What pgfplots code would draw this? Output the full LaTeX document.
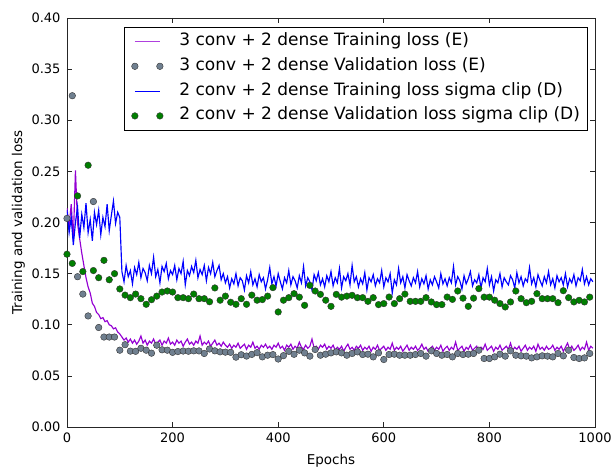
\documentclass[border=0pt]{standalone}
\usepackage{fontspec}
\setmainfont{DejaVu Sans}
\usepackage{pgfplots}
\pgfplotsset{compat=1.18}
\definecolor{eTrain}{HTML}{9400D3}
\definecolor{eVal}{HTML}{708090}
\definecolor{dTrain}{HTML}{0000FF}
\definecolor{dVal}{HTML}{007F00}
\begin{document}
\begin{tikzpicture}
\begin{axis}[
  scale only axis, width=528pt, height=409pt,
  xmin=0, xmax=1000, ymin=0, ymax=0.40,
  xtick={0,200,400,600,800,1000},
  ytick={0,0.05,0.10,0.15,0.20,0.25,0.30,0.35,0.40},
  tick align=inside, major tick length=5pt,
  axis line style={line width=0.9pt, black!85},
  every tick/.style={black!85, line width=0.7pt},
  /pgf/number format/assume math mode=true,
  tick label style={font=\fontsize{13}{15}\selectfont},
  yticklabel style={xshift=-3pt, /pgf/number format/.cd, fixed, fixed zerofill, precision=2},
  xticklabel style={yshift=-2pt, /pgf/number format/.cd, fixed, set thousands separator={}},
  xlabel={Epochs}, ylabel={Training and validation loss},
  every axis x label/.style={at={(axis description cs:0.5,-0.0929)}, anchor=base, font=\fontsize{13.5}{15}\selectfont},
  every axis y label/.style={at={(axis description cs:-0.0852,0.5)}, rotate=90, anchor=base, font=\fontsize{13.5}{15}\selectfont},
  legend cell align=left,
  legend style={at={(0.985,0.978)}, anchor=north east, draw=black, fill=white,
    font=\fontsize{17}{19}\selectfont, inner xsep=7pt, inner ysep=6.3pt,
    row sep=8.8pt,
    nodes={inner sep=0pt, text height=12pt, text depth=4pt},
    /tikz/every odd column/.append style={column sep=16pt}},
]
\addplot[draw=eTrain, line width=1.15pt, mark=none,
  legend image code/.code={\draw[draw=eTrain!75, line width=1.1pt] (0pt,0pt) -- (25pt,0pt);}] coordinates {
(0,0.214)(4,0.196)(8,0.218)(12,0.183)(16,0.251)(20,0.199)(24,0.184)(28,0.170)(32,0.158)(36,0.146)(40,0.137)(44,0.131)(48,0.121)(52,0.118)(56,0.112)(60,0.110)(64,0.106)(68,0.107)(72,0.103)(76,0.104)(80,0.100)(84,0.099)(88,0.096)(92,0.097)(96,0.093)
(100,0.091)(104,0.088)(108,0.085)(112,0.087)(116,0.083)(120,0.086)(124,0.082)(128,0.085)(132,0.081)(136,0.084)(140,0.089)(144,0.082)(148,0.085)(152,0.080)(156,0.084)(160,0.082)(164,0.086)(168,0.081)(172,0.083)(176,0.085)(180,0.080)(184,0.084)(188,0.082)(192,0.087)(196,0.081)
(200,0.083)(204,0.080)(208,0.085)(212,0.082)(216,0.084)(220,0.079)(224,0.083)(228,0.086)(232,0.081)(236,0.083)(240,0.080)(244,0.084)(248,0.082)(252,0.089)(256,0.080)(260,0.083)(264,0.081)(268,0.084)(272,0.079)(276,0.082)(280,0.085)(284,0.080)(288,0.082)(292,0.079)(296,0.083)
(300,0.080)(304,0.078)(308,0.081)(312,0.077)(316,0.080)(320,0.078)(324,0.082)(328,0.077)(332,0.079)(336,0.081)(340,0.076)(344,0.080)(348,0.078)(352,0.083)(356,0.077)(360,0.079)(364,0.076)(368,0.080)(372,0.078)(376,0.081)(380,0.077)(384,0.079)(388,0.076)(392,0.080)(396,0.078)
(400,0.082)(404,0.077)(408,0.079)(412,0.075)(416,0.080)(420,0.078)(424,0.081)(428,0.076)(432,0.079)(436,0.077)(440,0.083)(444,0.078)(448,0.076)(452,0.080)(456,0.077)(460,0.079)(464,0.086)(468,0.077)(472,0.079)(476,0.076)(480,0.080)(484,0.078)(488,0.081)(492,0.076)(496,0.079)
(500,0.077)(504,0.080)(508,0.075)(512,0.078)(516,0.076)(520,0.079)(524,0.074)(528,0.078)(532,0.081)(536,0.076)(540,0.078)(544,0.075)(548,0.079)(552,0.077)(556,0.080)(560,0.075)(564,0.078)(568,0.076)(572,0.079)(576,0.074)(580,0.078)(584,0.076)(588,0.080)(592,0.075)(596,0.077)
(600,0.079)(604,0.075)(608,0.078)(612,0.076)(616,0.082)(620,0.075)(624,0.078)(628,0.076)(632,0.079)(636,0.074)(640,0.077)(644,0.080)(648,0.075)(652,0.078)(656,0.076)(660,0.079)(664,0.075)(668,0.077)(672,0.081)(676,0.076)(680,0.078)(684,0.074)(688,0.077)(692,0.079)(696,0.075)
(700,0.078)(704,0.076)(708,0.080)(712,0.074)(716,0.077)(720,0.079)(724,0.075)(728,0.078)(732,0.076)(736,0.083)(740,0.075)(744,0.077)(748,0.079)(752,0.074)(756,0.078)(760,0.076)(764,0.080)(768,0.075)(772,0.077)(776,0.079)(780,0.074)(784,0.078)(788,0.076)(792,0.081)(796,0.075)
(800,0.077)(804,0.079)(808,0.074)(812,0.078)(816,0.076)(820,0.080)(824,0.075)(828,0.077)(832,0.079)(836,0.076)(840,0.082)(844,0.075)(848,0.078)(852,0.076)(856,0.079)(860,0.074)(864,0.077)(868,0.080)(872,0.075)(876,0.078)(880,0.076)(884,0.079)(888,0.074)(892,0.081)(896,0.076)
(900,0.078)(904,0.075)(908,0.079)(912,0.076)(916,0.077)(920,0.080)(924,0.075)(928,0.078)(932,0.076)(936,0.079)(940,0.074)(944,0.078)(948,0.082)(952,0.076)(956,0.079)(960,0.075)(964,0.077)(968,0.080)(972,0.075)(976,0.078)(980,0.076)(984,0.083)(988,0.075)(992,0.079)(996,0.077)
};
\addlegendentry{3 conv + 2 dense Training loss (E)}
\addplot[only marks, mark=*, mark size=3.3pt, mark options={fill=eVal, draw=black!80, line width=0.4pt},
  legend image code/.code={\draw[fill=eVal, draw=black!80, line width=0.4pt] (0pt,0pt) circle[radius=3.3pt] (25pt,0pt) circle[radius=3.3pt];}] coordinates {
(0,0.204)(10,0.324)(20,0.147)(30,0.130)(40,0.1086)(50,0.2205)(60,0.0973)(70,0.088)(80,0.088)(90,0.088)
(100,0.0751)(110,0.0805)(120,0.0742)(130,0.074)(140,0.077)(150,0.0751)(160,0.0722)(170,0.080)(180,0.0755)(190,0.0751)
(200,0.073)(210,0.0738)(220,0.0743)(230,0.0741)(240,0.0745)(250,0.0744)(260,0.0719)(270,0.0763)(280,0.0745)(290,0.0735)
(300,0.0732)(310,0.0730)(320,0.0683)(330,0.0707)(340,0.0694)(350,0.0710)(360,0.0727)(370,0.0686)(380,0.0702)(390,0.0708)
(400,0.0665)(410,0.0698)(420,0.074)(430,0.0711)(440,0.0751)(450,0.0725)(460,0.0693)(470,0.0758)(480,0.0702)(490,0.0712)
(500,0.0725)(510,0.0735)(520,0.0725)(530,0.0702)(540,0.0719)(550,0.0735)(560,0.0709)(570,0.0712)(580,0.0686)(590,0.0725)
(600,0.066)(610,0.0709)(620,0.0712)(630,0.0702)(640,0.0702)(650,0.0702)(660,0.0709)(670,0.0719)(680,0.0693)(690,0.0745)
(700,0.0719)(710,0.0702)(720,0.0709)(730,0.0686)(740,0.0719)(750,0.0709)(760,0.0712)(770,0.0719)(780,0.0751)(790,0.067)
(800,0.067)(810,0.0686)(820,0.0712)(830,0.0693)(840,0.0745)(850,0.0702)(860,0.0696)(870,0.0693)(880,0.0676)(890,0.0686)
(900,0.0696)(910,0.0693)(920,0.0686)(930,0.0719)(940,0.0696)(950,0.0751)(960,0.068)(970,0.067)(980,0.0676)(990,0.0719)
};
\addlegendentry{3 conv + 2 dense Validation loss (E)}
\addplot[draw=dTrain, line width=1.15pt, mark=none,
  legend image code/.code={\draw[draw=dTrain, line width=1.1pt] (0pt,0pt) -- (25pt,0pt);}] coordinates {
(0,0.212)(4,0.190)(8,0.205)(12,0.178)(16,0.200)(20,0.215)(24,0.185)(28,0.208)(32,0.195)(36,0.219)(40,0.190)(44,0.203)(48,0.182)(52,0.210)(56,0.198)(60,0.212)(64,0.188)(68,0.205)(72,0.196)(76,0.218)(80,0.192)(84,0.207)(88,0.221)(92,0.199)(96,0.210)
(100,0.205)(104,0.152)(108,0.142)(112,0.158)(116,0.147)(120,0.153)(124,0.140)(128,0.156)(132,0.149)(136,0.161)(140,0.146)(144,0.155)(148,0.151)(152,0.143)(156,0.158)(160,0.150)(164,0.166)(168,0.147)(172,0.154)(176,0.141)(180,0.157)(184,0.152)(188,0.160)(192,0.145)(196,0.153)
(200,0.149)(204,0.158)(208,0.144)(212,0.155)(216,0.150)(220,0.162)(224,0.139)(228,0.153)(232,0.148)(236,0.157)(240,0.151)(244,0.163)(248,0.146)(252,0.154)(256,0.149)(260,0.158)(264,0.143)(268,0.156)(272,0.150)(276,0.161)(280,0.147)(284,0.153)(288,0.158)(292,0.144)(296,0.150)
(300,0.141)(304,0.147)(308,0.136)(312,0.145)(316,0.140)(320,0.150)(324,0.138)(328,0.146)(332,0.143)(336,0.134)(340,0.148)(344,0.141)(348,0.152)(352,0.139)(356,0.145)(360,0.137)(364,0.149)(368,0.142)(372,0.146)(376,0.135)(380,0.144)(384,0.156)(388,0.140)(392,0.147)(396,0.138)
(400,0.150)(404,0.142)(408,0.135)(412,0.146)(416,0.141)(420,0.153)(424,0.139)(428,0.147)(432,0.143)(436,0.136)(440,0.148)(444,0.141)(448,0.157)(452,0.138)(456,0.146)(460,0.142)(464,0.134)(468,0.149)(472,0.143)(476,0.151)(480,0.139)(484,0.145)(488,0.137)(492,0.148)(496,0.142)
(500,0.152)(504,0.138)(508,0.146)(512,0.141)(516,0.155)(520,0.136)(524,0.147)(528,0.143)(532,0.150)(536,0.139)(540,0.158)(544,0.142)(548,0.147)(552,0.137)(556,0.145)(560,0.140)(564,0.151)(568,0.134)(572,0.146)(576,0.142)(580,0.149)(584,0.138)(588,0.145)(592,0.141)(596,0.153)
(600,0.137)(604,0.146)(608,0.142)(612,0.150)(616,0.131)(620,0.144)(624,0.139)(628,0.155)(632,0.141)(636,0.147)(640,0.136)(644,0.149)(648,0.143)(652,0.138)(656,0.146)(660,0.141)(664,0.152)(668,0.137)(672,0.145)(676,0.140)(680,0.148)(684,0.135)(688,0.144)(692,0.139)(696,0.147)
(700,0.142)(704,0.136)(708,0.150)(712,0.140)(716,0.145)(720,0.138)(724,0.146)(728,0.141)(732,0.157)(736,0.139)(740,0.147)(744,0.143)(748,0.135)(752,0.148)(756,0.140)(760,0.145)(764,0.152)(768,0.138)(772,0.144)(776,0.141)(780,0.149)(784,0.136)(788,0.146)(792,0.142)(796,0.155)
(800,0.139)(804,0.147)(808,0.133)(812,0.144)(816,0.141)(820,0.150)(824,0.137)(828,0.146)(832,0.142)(836,0.139)(840,0.148)(844,0.144)(848,0.136)(852,0.151)(856,0.141)(860,0.147)(864,0.138)(868,0.145)(872,0.142)(876,0.156)(880,0.140)(884,0.146)(888,0.137)(892,0.149)(896,0.143)
(900,0.138)(904,0.147)(908,0.141)(912,0.152)(916,0.139)(920,0.145)(924,0.136)(928,0.148)(932,0.142)(936,0.146)(940,0.139)(944,0.150)(948,0.137)(952,0.145)(956,0.141)(960,0.149)(964,0.138)(968,0.146)(972,0.143)(976,0.154)(980,0.140)(984,0.147)(988,0.139)(992,0.145)(996,0.142)
};
\addlegendentry{2 conv + 2 dense Training loss sigma clip (D)}
\addplot[only marks, mark=*, mark size=3.3pt, mark options={fill=dVal, draw=black!80, line width=0.4pt},
  legend image code/.code={\draw[fill=dVal, draw=black!80, line width=0.4pt] (0pt,0pt) circle[radius=3.3pt] (25pt,0pt) circle[radius=3.3pt];}] coordinates {
(0,0.169)(10,0.160)(20,0.226)(30,0.152)(40,0.256)(50,0.153)(60,0.146)(70,0.163)(80,0.144)(90,0.150)
(100,0.135)(110,0.129)(120,0.1265)(130,0.130)(140,0.1255)(150,0.120)(160,0.1245)(170,0.128)(180,0.132)(190,0.133)
(200,0.132)(210,0.1265)(220,0.1265)(230,0.1255)(240,0.130)(250,0.1255)(260,0.1255)(270,0.1225)(280,0.136)(290,0.124)
(300,0.128)(310,0.122)(320,0.120)(330,0.1255)(340,0.120)(350,0.129)(360,0.124)(370,0.1246)(380,0.128)(390,0.1363)
(400,0.1125)(410,0.124)(420,0.1265)(430,0.1304)(440,0.127)(450,0.119)(460,0.1385)(470,0.133)(480,0.1297)(490,0.124)
(500,0.118)(510,0.1297)(520,0.127)(530,0.128)(540,0.1288)(550,0.1265)(560,0.1265)(570,0.1229)(580,0.1265)(590,0.1197)
(600,0.1207)(610,0.1271)(620,0.1207)(630,0.1255)(640,0.130)(650,0.1229)(660,0.1229)(670,0.1229)(680,0.1265)(690,0.1223)
(700,0.1197)(710,0.1197)(720,0.1271)(730,0.1248)(740,0.133)(750,0.126)(760,0.118)(770,0.126)(780,0.1353)(790,0.127)
(800,0.127)(810,0.124)(820,0.1207)(830,0.1174)(840,0.1223)(850,0.133)(860,0.1255)(870,0.1216)(880,0.1229)(890,0.1304)
(900,0.1255)(910,0.1255)(920,0.1255)(930,0.1216)(940,0.1333)(950,0.1265)(960,0.1223)(970,0.1239)(980,0.1223)(990,0.127)
};
\addlegendentry{2 conv + 2 dense Validation loss sigma clip (D)}
\end{axis}
\pgfresetboundingbox
\path[use as bounding box] ([xshift=-67pt,yshift=-41pt]current axis.south west) rectangle ([xshift=20pt,yshift=18pt]current axis.north east);
\end{tikzpicture}
\end{document}
